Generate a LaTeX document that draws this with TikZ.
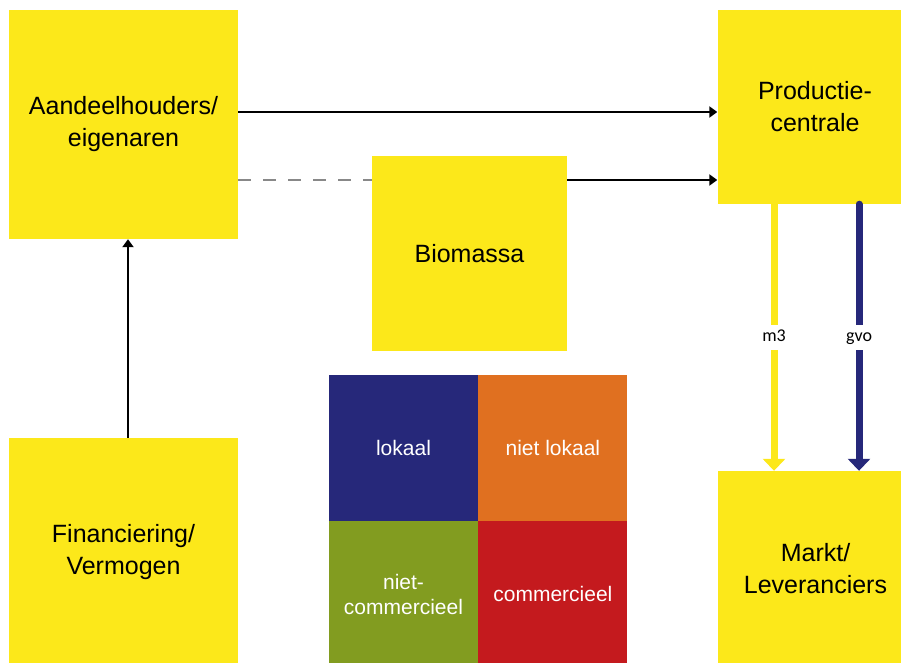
\documentclass[tikz,border=0pt]{standalone}
\usepackage{fontspec}
\setmainfont{Liberation Sans}
\newfontfamily\flowfont{Carlito}
\usepackage{tikz}
\usetikzlibrary{arrows.meta,positioning}
\definecolor{boxyellow}{RGB}{252,232,26}
\definecolor{cellnavy}{RGB}{38,40,122}
\definecolor{cellorange}{RGB}{224,112,32}
\definecolor{cellgreen}{RGB}{130,156,32}
\definecolor{cellred}{RGB}{196,26,30}
\definecolor{dashgray}{RGB}{136,136,136}

\begin{document}
\begin{tikzpicture}[x=1pt,y=-1pt,
  box/.style={fill=boxyellow, inner sep=0pt, align=center, font=\fontsize{25}{32}\selectfont},
  cell/.style={inner sep=0pt, minimum width=149pt, minimum height=146pt, align=center, text=white, font=\fontsize{21}{25}\selectfont},
  conn/.style={-{Triangle[length=8pt,width=11pt]}, line width=2pt},
  flow/.style={-{Triangle[length=12pt,width=22pt]}, line width=7pt},
  flowlabel/.style={fill=white, text=black, inner sep=1pt, text height=12pt, text depth=5pt, minimum height=25pt, font=\flowfont\fontsize{18}{20}\selectfont}]
  \useasboundingbox (0,0) rectangle (901,663);
  \node[box, minimum width=229pt, minimum height=229pt](aandeel) at (123.5,124.5){Aandeelhouders/\\eigenaren};
  \node[box, minimum width=195pt, minimum height=194pt](productie) at (815,107){Productie-\\centrale};
  \node[box, minimum size=195pt](biomassa) at (469.5,253.5){Biomassa};
  \node[box, minimum size=229pt](financiering) at (123.5,552.5){Financiering/\\Vermogen};
  \node[box, minimum size=195pt](markt) at (815.5,568.5){Markt/\\Leveranciers};
  \node[cell, fill=cellnavy](lokaal) at (403.5,448){lokaal};
  \node[cell, fill=cellorange, right=0pt of lokaal](nietlokaal){niet lokaal};
  \node[cell, fill=cellgreen, below=0pt of lokaal](nietcomm){niet-\\commercieel};
  \node[cell, fill=cellred, right=0pt of nietcomm](comm){commercieel};
  \coordinate(toprow) at (0,112);
  \coordinate(midrow) at (0,180);
  \coordinate(upcol) at (128,0);
  \coordinate(m3col) at (774,0);
  \coordinate(gvocol) at (859,0);
  \draw[conn](aandeel.east |- toprow)--(productie.west |- toprow);
  \draw[dashgray, line width=2pt, dash pattern=on 13pt off 12pt](aandeel.east |- midrow)--(biomassa.west |- midrow);
  \draw[conn](biomassa.east |- midrow)--(productie.west |- midrow);
  \draw[conn](upcol |- financiering.north)--(upcol |- aandeel.south);
  \draw[flow, boxyellow](m3col |- productie.south)--(m3col |- markt.north)node[midway, flowlabel]{m3};
  \draw[flow, cellnavy, line cap=round](gvocol |- productie.south)--(gvocol |- markt.north)node[midway, flowlabel]{gvo};
\end{tikzpicture}
\end{document}
